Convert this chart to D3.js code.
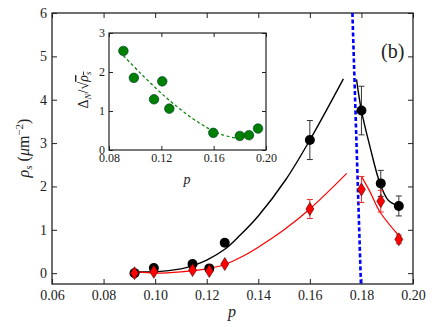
<!DOCTYPE html>
<html>
<head>
<meta charset="utf-8">
<script src="https://cdn.jsdelivr.net/npm/d3@7"></script>
<style>
body { margin: 0; background: #fff; }
</style>
</head>
<body>
<div id="chart"></div>
<script>
// main panel data
var p_vals = [0.092, 0.0995, 0.1145, 0.121, 0.127, 0.160, 0.180, 0.1875, 0.1945];
var rho_black = [0.0, 0.12, 0.21, 0.11, 0.70, 3.07, 3.75, 2.07, 1.55];
var err_black = [0.04, 0.04, 0.04, 0.04, 0.04, 0.45, 0.56, 0.30, 0.23];
var rho_red = [0.0, 0.03, 0.07, 0.05, 0.21, 1.48, 1.93, 1.66, 0.78];
var err_red = [0.03, 0.03, 0.03, 0.03, 0.03, 0.22, 0.30, 0.25, 0.10];

// fit curves
var fit_black_left = [[0.092, 0.03], [0.100, 0.03], [0.110, 0.10], [0.115, 0.18], [0.120, 0.30], [0.127, 0.55], [0.133, 0.88], [0.140, 1.32], [0.1507, 2.16], [0.160, 3.07], [0.173, 4.48]];
var fit_black_right = [[0.1781, 4.47], [0.180, 3.75], [0.1833, 2.92], [0.1872, 2.07], [0.1904, 1.68], [0.1943, 1.55]];
var fit_red_left = [[0.092, 0.04], [0.100, 0.0], [0.110, 0.03], [0.120, 0.10], [0.127, 0.20], [0.133, 0.36], [0.140, 0.60], [0.150, 1.00], [0.160, 1.48], [0.1743, 2.30]];
var fit_red_right = [[0.1801, 2.22], [0.1833, 1.88], [0.1872, 1.41], [0.1943, 0.88]];
var blue_line = [[0.1765, 6.0], [0.1798, -0.25]];

var x_ticks = [0.06, 0.08, 0.10, 0.12, 0.14, 0.16, 0.18, 0.20];
var y_ticks = [0, 1, 2, 3, 4, 5, 6];

// inset data
var p_inset = [0.091, 0.099, 0.1144, 0.1207, 0.1261, 0.1597, 0.180, 0.187, 0.1939];
var ratio_inset = [2.54, 1.85, 1.30, 1.76, 1.06, 0.44, 0.36, 0.38, 0.55];
var fit_green = [[0.091, 2.42], [0.104, 1.97], [0.1266, 1.26], [0.1496, 0.68], [0.165, 0.41], [0.1776, 0.30]];
var xi_ticks = [0.08, 0.12, 0.16, 0.20];
var yi_ticks = [0, 1, 2, 3];

var serif = "Liberation Serif";

var width = 436, height = 327;
var svg = d3.select("#chart").append("svg")
	.attr("width", width)
	.attr("height", height)
	.attr("font-family", serif);

var x = d3.scaleLinear().domain([0.06, 0.20]).range([52, 413]);
var y = d3.scaleLinear().domain([-0.25, 6]).range([284, 13]);

var fmt2 = d3.format(".2f");
var axis_col = "#222";

function style_axis(g, size) {
	g.attr("font-family", serif);
	g.select(".domain").remove();
	g.selectAll("line").attr("stroke", axis_col).attr("stroke-width", 1);
	g.selectAll("text").attr("font-size", size).attr("fill", "#222").attr("font-family", serif);
}

// main axes
svg.append("g").attr("transform", "translate(0,284)")
	.call(d3.axisBottom(x).tickValues(x_ticks).tickFormat(fmt2).tickSizeInner(-5).tickSizeOuter(0).tickPadding(6))
	.call(style_axis, 14);
svg.append("g").attr("transform", "translate(0,13)")
	.call(d3.axisTop(x).tickValues(x_ticks).tickFormat("").tickSizeInner(-5).tickSizeOuter(0))
	.call(style_axis, 14);
svg.append("g").attr("transform", "translate(52,0)")
	.call(d3.axisLeft(y).tickValues(y_ticks).tickFormat(d3.format("d")).tickSizeInner(-5).tickSizeOuter(0).tickPadding(5))
	.call(style_axis, 14);
svg.append("g").attr("transform", "translate(413,0)")
	.call(d3.axisRight(y).tickValues(y_ticks).tickFormat("").tickSizeInner(-5).tickSizeOuter(0))
	.call(style_axis, 14);

svg.append("rect").attr("x", 52).attr("y", 13).attr("width", 361).attr("height", 271)
	.attr("fill", "none").attr("stroke", axis_col).attr("stroke-width", 1.3);

var line = d3.line().x(function(d) { return x(d[0]); }).y(function(d) { return y(d[1]); })
	.curve(d3.curveCatmullRom);

var plot = svg.append("g");

// blue dashed boundary
plot.append("path").attr("d", d3.line().x(function(d) { return x(d[0]); }).y(function(d) { return y(d[1]); })(blue_line))
	.attr("stroke", "#0000ff").attr("stroke-width", 2.6).attr("stroke-dasharray", "4,2.5").attr("fill", "none");

// fits
[fit_black_left, fit_black_right].forEach(function(f) {
	plot.append("path").attr("d", line(f)).attr("fill", "none").attr("stroke", "#000").attr("stroke-width", 1.4);
});
[fit_red_left, fit_red_right].forEach(function(f) {
	plot.append("path").attr("d", line(f)).attr("fill", "none").attr("stroke", "#ff0000").attr("stroke-width", 1.2);
});

function error_bars(vals, errs, color) {
	var g = plot.append("g").attr("stroke", color).attr("stroke-width", 1);
	p_vals.forEach(function(p, i) {
		var cx = x(p), top = y(vals[i] + errs[i]), bot = y(vals[i] - errs[i]);
		g.append("line").attr("x1", cx).attr("x2", cx).attr("y1", top).attr("y2", bot);
		g.append("line").attr("x1", cx - 3).attr("x2", cx + 3).attr("y1", top).attr("y2", top);
		g.append("line").attr("x1", cx - 3).attr("x2", cx + 3).attr("y1", bot).attr("y2", bot);
	});
}
error_bars(rho_black, err_black, "#333");
error_bars(rho_red, err_red, "#e03030");

// black circles
plot.selectAll("circle.blk")
	.data(p_vals)
	.enter()
	.append("circle")
	.attr("class", "blk")
	.attr("cx", function(d) { return x(d); })
	.attr("cy", function(d, i) { return y(rho_black[i]); })
	.attr("r", 5)
	.attr("fill", "#000");

// red diamonds
plot.selectAll("path.dia")
	.data(p_vals)
	.enter()
	.append("path")
	.attr("class", "dia")
	.attr("d", "M0,-6.5L4,0L0,6.5L-4,0Z")
	.attr("transform", function(d, i) { return "translate(" + x(d) + "," + y(rho_red[i]) + ")"; })
	.attr("fill", "#ff0000")
	.attr("stroke", "#400")
	.attr("stroke-width", 0.6);

// text labels
svg.append("text").attr("x", 381).attr("y", 58).attr("font-size", 20).attr("fill", "#222").text("(b)");

svg.append("text").attr("x", 232).attr("y", 317).attr("font-size", 16).attr("font-style", "italic")
	.attr("text-anchor", "middle").attr("fill", "#222").text("p");

var ylab = svg.append("text").attr("transform", "translate(29,148) rotate(-90)")
	.attr("text-anchor", "middle").attr("font-size", 16).attr("fill", "#222");
ylab.append("tspan").attr("font-style", "italic").text("ρ");
ylab.append("tspan").attr("font-style", "italic").attr("font-size", 11).attr("dy", 3).text("s");
ylab.append("tspan").attr("dy", -3).text(" (");
ylab.append("tspan").attr("font-style", "italic").text("μ");
ylab.append("tspan").text("m");
ylab.append("tspan").attr("font-size", 11).attr("dy", -6).text("−2");
ylab.append("tspan").attr("dy", 6).text(")");

// inset
var xi = d3.scaleLinear().domain([0.08, 0.20]).range([109, 266]);
var yi = d3.scaleLinear().domain([0, 3]).range([150, 33]);

svg.append("rect").attr("x", 109).attr("y", 33).attr("width", 157).attr("height", 117).attr("fill", "#fff");

svg.append("g").attr("transform", "translate(0,150)")
	.call(d3.axisBottom(xi).tickValues(xi_ticks).tickFormat(fmt2).tickSizeInner(-4).tickSizeOuter(0).tickPadding(3))
	.call(style_axis, 12);
svg.append("g").attr("transform", "translate(0,33)")
	.call(d3.axisTop(xi).tickValues(xi_ticks).tickFormat("").tickSizeInner(-4).tickSizeOuter(0))
	.call(style_axis, 12);
svg.append("g").attr("transform", "translate(109,0)")
	.call(d3.axisLeft(yi).tickValues(yi_ticks).tickFormat(d3.format("d")).tickSizeInner(-4).tickSizeOuter(0).tickPadding(4))
	.call(style_axis, 12);
svg.append("g").attr("transform", "translate(266,0)")
	.call(d3.axisRight(yi).tickValues(yi_ticks).tickFormat("").tickSizeInner(-4).tickSizeOuter(0))
	.call(style_axis, 12);

svg.append("rect").attr("x", 109).attr("y", 33).attr("width", 157).attr("height", 117)
	.attr("fill", "none").attr("stroke", axis_col).attr("stroke-width", 1.2);

var line_i = d3.line().x(function(d) { return xi(d[0]); }).y(function(d) { return yi(d[1]); })
	.curve(d3.curveCatmullRom);

svg.append("path").attr("d", line_i(fit_green)).attr("fill", "none")
	.attr("stroke", "#008000").attr("stroke-width", 1.2).attr("stroke-dasharray", "3,2.5");

svg.selectAll("circle.grn")
	.data(p_inset)
	.enter()
	.append("circle")
	.attr("class", "grn")
	.attr("cx", function(d) { return xi(d); })
	.attr("cy", function(d, i) { return yi(ratio_inset[i]); })
	.attr("r", 4.8)
	.attr("fill", "#008000")
	.attr("stroke", "#033")
	.attr("stroke-width", 0.6);

svg.append("text").attr("x", 187).attr("y", 184).attr("font-size", 14).attr("font-style", "italic")
	.attr("text-anchor", "middle").attr("fill", "#222").text("p");

var ilab = svg.append("text").attr("transform", "translate(88,90) rotate(-90)")
	.attr("text-anchor", "middle").attr("font-size", 14).attr("fill", "#222");
ilab.append("tspan").text("Δ");
ilab.append("tspan").attr("font-style", "italic").attr("font-size", 9).attr("dy", 3).text("N");
ilab.append("tspan").attr("dy", -3).text("/√");
ilab.append("tspan").attr("font-style", "italic").attr("text-decoration", "overline").text("ρ");
ilab.append("tspan").attr("font-style", "italic").attr("font-size", 9).attr("dy", 3)
	.attr("text-decoration", "overline").text("s");
</script>
</body>
</html>
